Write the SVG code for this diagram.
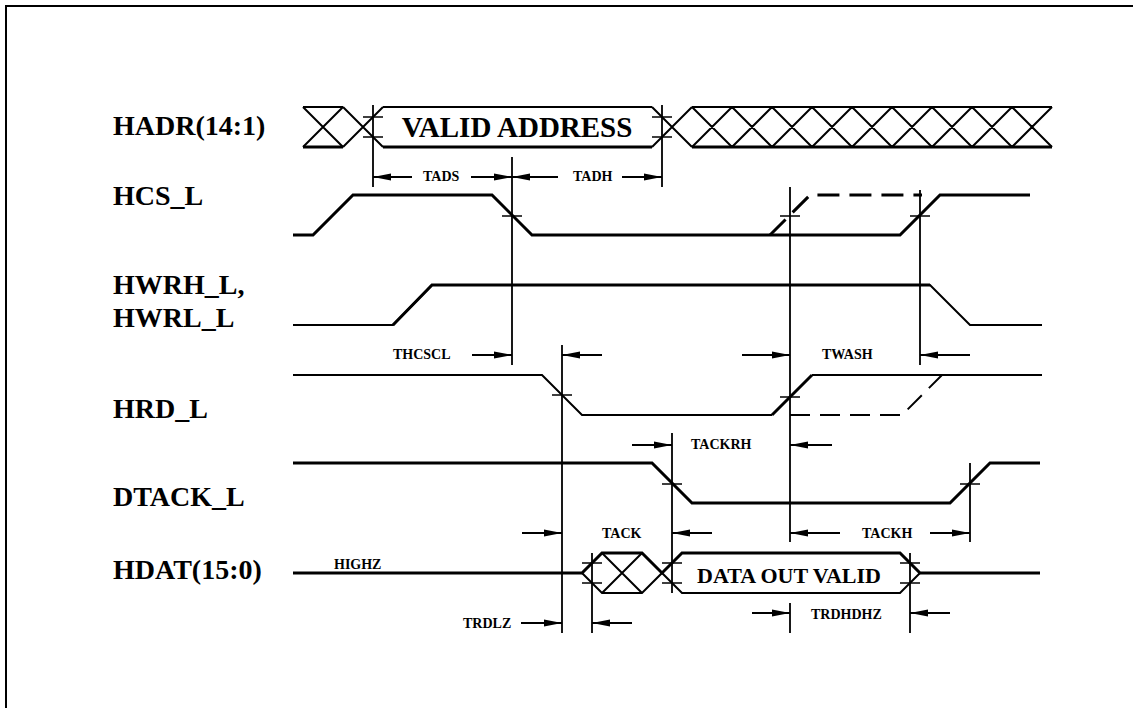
<svg xmlns="http://www.w3.org/2000/svg" width="1133" height="708" viewBox="0 0 1133 708">
<defs>
<marker id="ah" viewBox="0 0 18 8" refX="18" refY="4" markerWidth="18" markerHeight="8" orient="auto" markerUnits="userSpaceOnUse">
<path d="M0,0.6 L18,4 L0,7.4 z" fill="#000"/>
</marker>
</defs>
<style>
.lbl{font-family:"Liberation Serif","Times New Roman",serif;font-weight:bold;font-size:28px;fill:#000}
.big{font-family:"Liberation Serif","Times New Roman",serif;font-weight:bold;fill:#000;text-anchor:middle}
.dim{font-family:"Liberation Serif","Times New Roman",serif;font-weight:bold;font-size:14px;fill:#000}
.w3{fill:none;stroke:#000;stroke-width:3;stroke-linejoin:miter}
.w2{fill:none;stroke:#000;stroke-width:2;stroke-linejoin:miter}
.vl{fill:none;stroke:#000;stroke-width:1.8}
.tk{fill:none;stroke:#000;stroke-width:1.6}
.ar{fill:none;stroke:#000;stroke-width:1.8;marker-end:url(#ah)}
.d1{stroke-dasharray:22 10}
.d2{stroke-dasharray:20 10}
</style>
<rect width="1133" height="708" fill="#fff"/>
<path d="M6,708 V6 H1133" fill="none" stroke="#000" stroke-width="2"/>

<g id="hadr">
<text class="lbl" x="113" y="135">HADR(14:1)</text>
<path class="w2" d="M303,107 H343 M303,107 L343,147 M303,147 L343,107 M343,107 L383,147 M343,147 L383,107 M383,107 H652 M652,107 L692,147 M652,147 L692,107 M692,107 H1052"/>
<path class="w3" d="M303,147 H343 M383,147 H652 M692,147 H1052"/>
<path class="w2" d="M692,107 L732,147 M692,147 L732,107 M732,107 L772,147 M732,147 L772,107 M772,107 L812,147 M772,147 L812,107 M812,107 L852,147 M812,147 L852,107 M852,107 L892,147 M852,147 L892,107 M892,107 L932,147 M892,147 L932,107 M932,107 L972,147 M932,147 L972,107 M972,107 L1012,147 M972,147 L1012,107 M1012,107 L1052,147 M1012,147 L1052,107"/>
<text class="big" x="517" y="137" font-size="29">VALID ADDRESS</text>
<path class="tk" d="M363,117 H383 M363,137 H383 M652,117 H672 M652,137 H672"/>
</g>

<g id="hcs">
<text class="lbl" x="113" y="205">HCS_L</text>
<path class="w3" d="M293,235 H313 L353,195 H492 L532,235 H900 L940,195 H1030"/>
<path class="w3 d1" d="M770,235 L810,195 H922"/>
<path class="tk" d="M502,216 H522 M780,216 H800 M910,216 H930"/>
</g>

<g id="hwr">
<text class="lbl" x="113" y="294">HWRH_L,</text>
<text class="lbl" x="113" y="327">HWRL_L</text>
<path class="w2" d="M293,325 H393 L432,285 H930 L970,325 H1042"/>
<path class="w3" d="M393,325 L432,285 H930"/>
</g>

<g id="hrd">
<text class="lbl" x="113" y="418">HRD_L</text>
<path class="w2" d="M293,375 H542 L582,415 H772"/>
<path class="w3" d="M772,415 L812,375"/>
<path class="w2" d="M812,375 H1042"/>
<path class="w2 d2" d="M790,415 H902 L942,375"/>
<path class="tk" d="M552,395 H572 M780,397 H800"/>
</g>

<g id="dtack">
<text class="lbl" x="113" y="506">DTACK_L</text>
<path class="w3" d="M293,463 H652 L692,503 H950 L990,463 H1040"/>
<path class="tk" d="M662,484 H682 M960,484 H980"/>
</g>

<g id="hdat">
<text class="lbl" x="113" y="579">HDAT(15:0)</text>
<text class="dim" x="334" y="569">HIGHZ</text>
<path class="w3" d="M293,573 H582 L602,553 H642 L662,573 L682,553 H900 L920,573 H1040"/>
<path class="w2" d="M582,573 L602,593 H642 L662,573 L682,593 H900 L920,573 M602,553 L642,593 M602,593 L642,553"/>
<text class="big" x="789" y="583" font-size="22">DATA OUT VALID</text>
<path class="tk" d="M582,563 H602 M582,583 H602 M662,563 H682 M662,583 H682 M900,563 H920 M900,583 H920"/>
</g>

<g id="connectors">
<path class="vl" d="M373,105 V187 M512,157 V365 M662,105 V187 M790,187 V542 M920,190 V365 M562,345 V633 M672,433 V593 M970,463 V542 M592,553 V633 M790,603 V633 M910,553 V633"/>
<line class="ar" x1="412" y1="177" x2="373" y2="177"/>
<line class="ar" x1="471" y1="177" x2="512" y2="177"/>
<line class="ar" x1="558" y1="177" x2="512" y2="177"/>
<line class="ar" x1="622" y1="177" x2="662" y2="177"/>
<line class="ar" x1="472" y1="355" x2="512" y2="355"/>
<line class="ar" x1="602" y1="355" x2="562" y2="355"/>
<line class="ar" x1="742" y1="355" x2="790" y2="355"/>
<line class="ar" x1="970" y1="355" x2="920" y2="355"/>
<line class="ar" x1="632" y1="445" x2="672" y2="445"/>
<line class="ar" x1="832" y1="445" x2="790" y2="445"/>
<line class="ar" x1="522" y1="533" x2="562" y2="533"/>
<line class="ar" x1="712" y1="533" x2="672" y2="533"/>
<line class="ar" x1="840" y1="533" x2="790" y2="533"/>
<line class="ar" x1="930" y1="533" x2="970" y2="533"/>
<line class="ar" x1="521" y1="623" x2="562" y2="623"/>
<line class="ar" x1="632" y1="623" x2="592" y2="623"/>
<line class="ar" x1="752" y1="613" x2="790" y2="613"/>
<line class="ar" x1="950" y1="613" x2="910" y2="613"/>
<text class="dim" x="423" y="181">TADS</text>
<text class="dim" x="573" y="181">TADH</text>
<text class="dim" x="393" y="359">THCSCL</text>
<text class="dim" x="822" y="359">TWASH</text>
<text class="dim" x="691" y="449">TACKRH</text>
<text class="dim" x="602" y="538">TACK</text>
<text class="dim" x="862" y="538">TACKH</text>
<text class="dim" x="463" y="628">TRDLZ</text>
<text class="dim" x="811" y="619">TRDHDHZ</text>
</g>
</svg>
